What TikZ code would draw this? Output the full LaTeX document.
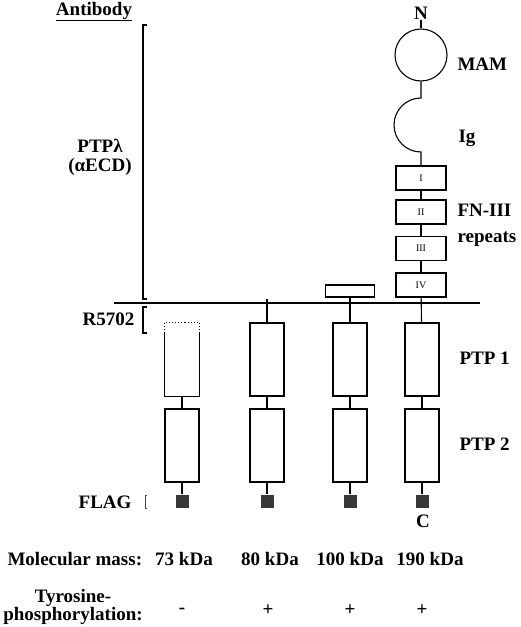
\documentclass[tikz,border=0pt]{standalone}
\usepackage{fontspec}
\setmainfont{Liberation Serif}
\begin{document}
\begin{tikzpicture}[x=1pt,y=-1pt,line width=1.1pt,
    lbl/.style={font=\fontsize{19}{19}\selectfont\bfseries, inner sep=0pt},
    ptpbox/.style={minimum width=34pt, minimum height=73pt, inner sep=0pt},
    fnbox/.style={draw, minimum width=50pt, minimum height=24pt, inner sep=0pt, font=\fontsize{10}{10}\selectfont},
    flagbox/.style={fill=black!78, minimum size=13pt, inner sep=0pt}]
    \useasboundingbox (0,0) rectangle (520,627);

    % membrane
    \coordinate (memL) at (114,303);
    \coordinate (memR) at (480,303);
    \draw (memL) -- (memR);

    % 73 kDa
    \node[ptpbox] (p1a) at (182,359.5) {};
    \node[ptpbox, draw] (p2a) at (182,445.5) {};
    \node[flagbox] (fa) at (182,501) {};
    \draw[dotted] ([yshift=-11pt]p1a.north west) -- (p1a.north west) -- (p1a.north east) -- ([yshift=-11pt]p1a.north east);
    \draw ([yshift=-11pt]p1a.north west) -- (p1a.south west) -- (p1a.south east) -- ([yshift=-11pt]p1a.north east);
    \draw (p1a) -- (p2a);
    \draw (p2a) -- (fa);

    % 80 kDa
    \coordinate (tb) at (267,299);
    \node[ptpbox, draw] (p1b) at (267,359.5) {};
    \node[ptpbox, draw] (p2b) at (267,445.5) {};
    \node[flagbox] (fb) at (267,501) {};
    \draw (tb) -- (p1b);
    \draw (p1b) -- (p2b);
    \draw (p2b) -- (fb);

    % 100 kDa
    \node[draw, minimum width=49pt, minimum height=12pt, inner sep=0pt] (tm) at (350,291) {};
    \node[ptpbox, draw] (p1c) at (350,359.5) {};
    \node[ptpbox, draw] (p2c) at (350,445.5) {};
    \node[flagbox] (fc) at (350,501) {};
    \draw (tm) -- (p1c);
    \draw (p1c) -- (p2c);
    \draw (p2c) -- (fc);

    % 190 kDa
    \node[lbl, anchor=base] (nterm) at (421,19) {N};
    \node[draw, circle, minimum size=52pt, inner sep=0pt] (mam) at (421,55) {};
    \coordinate (igtop) at (421,98);
    \node[fnbox] (fn1) at (421,178) {I};
    \node[fnbox] (fn2) at (421,212) {II};
    \node[fnbox] (fn3) at (421,248.5) {III};
    \node[fnbox] (fn4) at (421,285) {IV};
    \node[ptpbox, draw] (p1d) at (422,359.5) {};
    \node[ptpbox, draw] (p2d) at (422,445.5) {};
    \node[flagbox] (fd) at (422,501) {};
    \node[lbl, anchor=base] (cterm) at (423,527) {C};
    \draw (nterm) -- (mam);
    \draw (mam) -- (igtop) arc[start angle=90, end angle=270, radius=27pt] -- (fn1);
    \draw (fn1) -- (fn2);
    \draw (fn2) -- (fn3);
    \draw (fn3) -- (fn4);
    \draw (fn4) -- (p1d);
    \draw (p1d) -- (p2d);
    \draw (p2d) -- (fd);

    % domain labels
    \node[lbl, anchor=base west] (lmam) at (457,70) {MAM};
    \node[lbl, anchor=base west] (lig) at (458,142) {Ig};
    \node[lbl, anchor=north west, align=left, font=\fontsize{19}{26}\selectfont\bfseries] (lfn) at (457,204) {FN-III\\repeats};
    \node[lbl, anchor=base west] (lptp1) at (459,364) {PTP 1};
    \node[lbl, anchor=base west] (lptp2) at (459,450) {PTP 2};

    % antibodies
    \node[lbl, anchor=base] (lab) at (94,15) {\underline{Antibody}};
    \node[lbl, anchor=north, align=center] (lptp) at (100,139) {PTPλ\\(αECD)};
    \node[lbl, anchor=base east] (lr) at (135,325) {R5702};
    \node[lbl, anchor=base east] (lflag) at (132,508) {FLAG};
    \draw (147,25) -- (143,25) -- (143,299) -- (147,299);
    \draw (147,307) -- (143,307) -- (143,333) -- (147,333);
    \draw[line width=0.6pt, black!70] (147,495) -- (145,495) -- (145,508) -- (147,508);

    % mass and phosphorylation
    \node[lbl, anchor=base west] (lmass) at (7,565) {Molecular mass:};
    \node[lbl, anchor=base] (ma) at (184,565) {73 kDa};
    \node[lbl, anchor=base] (mb) at (270,565) {80 kDa};
    \node[lbl, anchor=base] (mc) at (350,565) {100 kDa};
    \node[lbl, anchor=base] (md) at (430,565) {190 kDa};
    \node[lbl, anchor=north, align=center, font=\fontsize{19}{18}\selectfont\bfseries] (ltyr) at (73,589) {Tyrosine-\\phosphorylation:};
    \node[lbl, anchor=base] (sa) at (182,613) {-};
    \node[lbl, anchor=base] (sb) at (268,615) {+};
    \node[lbl, anchor=base] (sc) at (350,615) {+};
    \node[lbl, anchor=base] (sd) at (422,615) {+};
\end{tikzpicture}
\end{document}
